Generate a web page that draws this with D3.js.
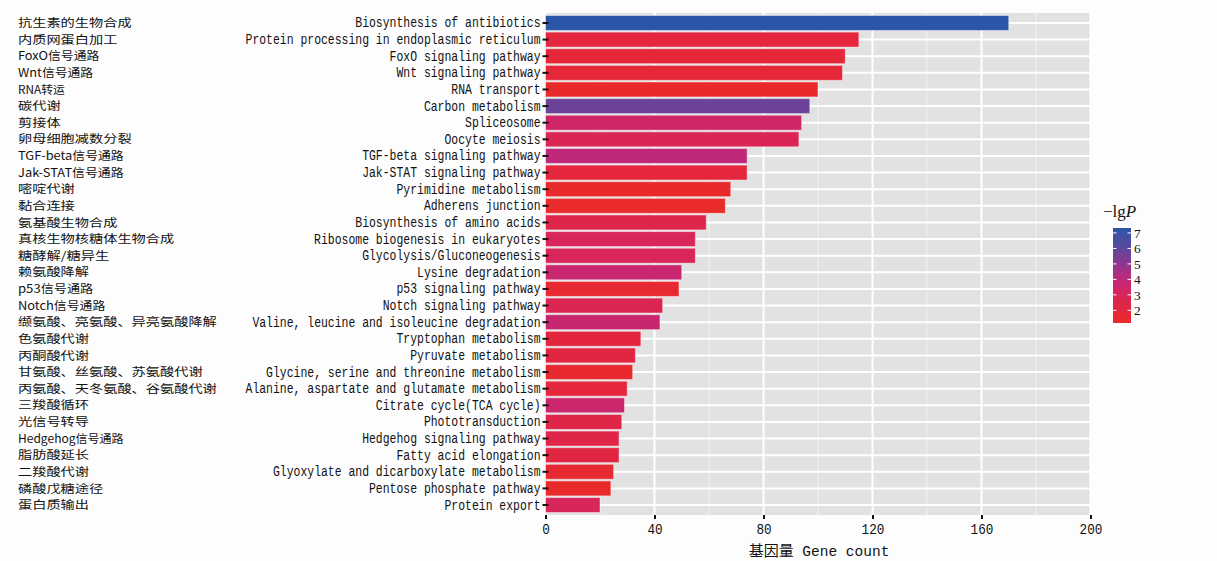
<!DOCTYPE html>
<html>
<head>
<meta charset="utf-8">
<script src="https://cdn.jsdelivr.net/npm/d3@7"></script>
<style>
  html, body { margin: 0; padding: 0; background: #fdfdfd; }
  svg { display: block; }
</style>
</head>
<body>
<svg id="chart" width="1217" height="561"></svg>
<script>
// KEGG pathway enrichment: pathway names, gene counts and -lgP
const pathwaysZh = [
  "抗生素的生物合成", "内质网蛋白加工", "FoxO信号通路", "Wnt信号通路", "RNA转运",
  "碳代谢", "剪接体", "卵母细胞减数分裂", "TGF-beta信号通路", "Jak-STAT信号通路",
  "嘧啶代谢", "黏合连接", "氨基酸生物合成", "真核生物核糖体生物合成", "糖酵解/糖异生",
  "赖氨酸降解", "p53信号通路", "Notch信号通路", "缬氨酸、亮氨酸、异亮氨酸降解", "色氨酸代谢",
  "丙酮酸代谢", "甘氨酸、丝氨酸、苏氨酸代谢", "丙氨酸、天冬氨酸、谷氨酸代谢", "三羧酸循环", "光信号转导",
  "Hedgehog信号通路", "脂肪酸延长", "二羧酸代谢", "磷酸戊糖途径", "蛋白质输出"
];
const pathwaysEn = [
  "Biosynthesis of antibiotics", "Protein processing in endoplasmic reticulum", "FoxO signaling pathway",
  "Wnt signaling pathway", "RNA transport", "Carbon metabolism", "Spliceosome", "Oocyte meiosis",
  "TGF-beta signaling pathway", "Jak-STAT signaling pathway", "Pyrimidine metabolism", "Adherens junction",
  "Biosynthesis of amino acids", "Ribosome biogenesis in eukaryotes", "Glycolysis/Gluconeogenesis",
  "Lysine degradation", "p53 signaling pathway", "Notch signaling pathway",
  "Valine, leucine and isoleucine degradation", "Tryptophan metabolism", "Pyruvate metabolism",
  "Glycine, serine and threonine metabolism", "Alanine, aspartate and glutamate metabolism",
  "Citrate cycle(TCA cycle)", "Phototransduction", "Hedgehog signaling pathway", "Fatty acid elongation",
  "Glyoxylate and dicarboxylate metabolism", "Pentose phosphate pathway", "Protein export"
];
const geneCount = [170, 115, 110, 109, 100, 97, 94, 93, 74, 74, 68, 66, 59, 55, 55,
                   50, 49, 43, 42, 35, 33, 32, 30, 29, 28, 27, 27, 25, 24, 20];
const negLogP = [7.3, 1.9, 1.8, 1.8, 1.3, 5.7, 3.4, 2.8, 4.0, 1.9, 1.3, 1.2, 2.5, 3.0, 3.0,
                 3.7, 1.5, 2.7, 3.7, 2.0, 2.1, 1.4, 1.9, 3.6, 2.4, 2.4, 2.2, 1.5, 1.3, 3.0];
const xTicks = [0, 40, 80, 120, 160, 200];
const xMinor = [20, 60, 100, 140, 180];
const legendTicks = [2, 3, 4, 5, 6, 7];

// colour ramp stops for -lgP
const colorStops = [1.18, 2, 3, 4, 5, 6, 7.32];
const colorValues = ["#ea2b2a", "#e3263e", "#d8255a", "#c0287a", "#8e3590", "#5a479c", "#2a55a6"];

const svg = d3.select("#chart");
const panel = { left: 545.5, right: 1090.5, top: 13, bottom: 515 };

const rows = pathwaysEn.map((en, i) => ({ zh: pathwaysZh[i], en, count: geneCount[i], p: negLogP[i] }));

const x = d3.scaleLinear().domain([0, 200]).range([panel.left, panel.right]);
const y = d3.scaleBand().domain(pathwaysEn).range([panel.top, panel.bottom])
  .paddingInner(0.1).paddingOuter(0.15);
const color = d3.scaleLinear().domain(colorStops).range(colorValues).interpolate(d3.interpolateLab);

// narrow half-width Latin and full-width CJK advance, SimSun-like
const monoAdvance = 6.86;
const labelWidth = s => Array.from(s).reduce((w, ch) => w + (ch.charCodeAt(0) > 255 ? 14.2 : 6.1), 0);

// panel background
svg.append("rect")
  .attr("x", panel.left).attr("y", panel.top)
  .attr("width", panel.right - panel.left).attr("height", panel.bottom - panel.top)
  .attr("fill", "#e2e2e2");

const grid = svg.append("g");
grid.selectAll("line.minor").data(xMinor).join("line")
  .attr("x1", d => x(d)).attr("x2", d => x(d))
  .attr("y1", panel.top).attr("y2", panel.bottom)
  .attr("stroke", "#f2f2f2").attr("stroke-width", 1);
grid.selectAll("line.major").data(xTicks).join("line")
  .attr("x1", d => x(d)).attr("x2", d => x(d))
  .attr("y1", panel.top).attr("y2", panel.bottom)
  .attr("stroke", "#ffffff").attr("stroke-width", 2);
grid.selectAll("line.row").data(pathwaysEn).join("line")
  .attr("x1", panel.left).attr("x2", panel.right)
  .attr("y1", d => y(d) + y.bandwidth() / 2).attr("y2", d => y(d) + y.bandwidth() / 2)
  .attr("stroke", "#ffffff").attr("stroke-width", 2);

// bars
svg.append("g").selectAll("rect").data(rows).join("rect")
  .attr("x", x(0))
  .attr("y", d => y(d.en))
  .attr("width", d => x(d.count) - x(0))
  .attr("height", y.bandwidth())
  .attr("fill", d => color(d.p))
  .attr("stroke", "rgba(255,255,255,0.45)")
  .attr("stroke-width", 1);

// y axis ticks and English labels
const yAxis = svg.append("g").attr("transform", `translate(${panel.left + 3},0)`)
  .call(d3.axisLeft(y).tickSize(6).tickPadding(3));
yAxis.select(".domain").remove();
yAxis.selectAll(".tick line").attr("stroke", "#111").attr("stroke-width", 2);
yAxis.selectAll(".tick text")
  .attr("x", -8)
  .attr("fill", "#111")
  .attr("textLength", d => d.length * monoAdvance)
  .attr("lengthAdjust", "spacingAndGlyphs")
  .style("font-family", "'Liberation Mono', monospace")
  .style("font-size", "14px");

// Chinese labels
svg.append("g").selectAll("text").data(rows).join("text")
  .attr("x", 18)
  .attr("y", d => y(d.en) + y.bandwidth() / 2)
  .attr("dy", "0.36em")
  .attr("fill", "#111")
  .attr("textLength", d => labelWidth(d.zh))
  .attr("lengthAdjust", "spacingAndGlyphs")
  .style("font-family", "'Noto Sans CJK SC', sans-serif")
  .style("font-size", "11.4px")
  .text(d => d.zh);

// x axis
const xAxis = svg.append("g").attr("transform", `translate(0,${panel.bottom})`)
  .call(d3.axisBottom(x).tickValues(xTicks).tickSize(4).tickPadding(5));
xAxis.select(".domain").remove();
xAxis.selectAll(".tick line").attr("stroke", "#111").attr("stroke-width", 2);
xAxis.selectAll(".tick text")
  .attr("fill", "#111")
  .attr("textLength", d => String(d).length * 7.6)
  .attr("lengthAdjust", "spacingAndGlyphs")
  .style("font-family", "'Liberation Mono', monospace")
  .style("font-size", "14.5px");

const xTitle = svg.append("text")
  .attr("x", (panel.left + panel.right) / 2 + 1).attr("y", 556)
  .attr("text-anchor", "middle").attr("fill", "#111");
xTitle.append("tspan")
  .style("font-family", "'Noto Sans CJK SC', sans-serif").style("font-size", "15px")
  .text("基因量");
xTitle.append("tspan")
  .style("font-family", "'Liberation Mono', monospace").style("font-size", "14.5px")
  .text(" Gene count");

// colour legend
const legend = { x: 1113, y: 228, w: 18, h: 95 };
const ly = d3.scaleLinear().domain([colorStops[0], colorStops[colorStops.length - 1]])
  .range([legend.y + legend.h, legend.y]);

const defs = svg.append("defs");
const grad = defs.append("linearGradient").attr("id", "lgp-grad")
  .attr("x1", 0).attr("y1", 1).attr("x2", 0).attr("y2", 0);
d3.range(0, 1.0001, 0.05).forEach(t => {
  const v = colorStops[0] + t * (colorStops[colorStops.length - 1] - colorStops[0]);
  grad.append("stop").attr("offset", t).attr("stop-color", color(v));
});
svg.append("rect")
  .attr("x", legend.x).attr("y", legend.y)
  .attr("width", legend.w).attr("height", legend.h)
  .attr("fill", "url(#lgp-grad)");

const lt = svg.append("g");
lt.selectAll("line.l").data(legendTicks).join("line")
  .attr("x1", legend.x).attr("x2", legend.x + 3.5)
  .attr("y1", d => ly(d)).attr("y2", d => ly(d))
  .attr("stroke", "#fff").attr("stroke-width", 1);
lt.selectAll("line.r").data(legendTicks).join("line")
  .attr("x1", legend.x + legend.w - 3.5).attr("x2", legend.x + legend.w)
  .attr("y1", d => ly(d)).attr("y2", d => ly(d))
  .attr("stroke", "#fff").attr("stroke-width", 1);
lt.selectAll("text").data(legendTicks).join("text")
  .attr("x", legend.x + legend.w + 3)
  .attr("y", d => ly(d))
  .attr("dy", "0.36em")
  .attr("fill", "#111")
  .style("font-family", "'Liberation Serif', serif")
  .style("font-size", "13.4px")
  .text(d => d);

const title = svg.append("text")
  .attr("x", 1103).attr("y", 217)
  .attr("fill", "#111")
  .style("font-family", "'Liberation Serif', serif")
  .style("font-size", "17px");
title.append("tspan").text("\u2212lg");
title.append("tspan").attr("font-style", "italic").text("P");
</script>
</body>
</html>
